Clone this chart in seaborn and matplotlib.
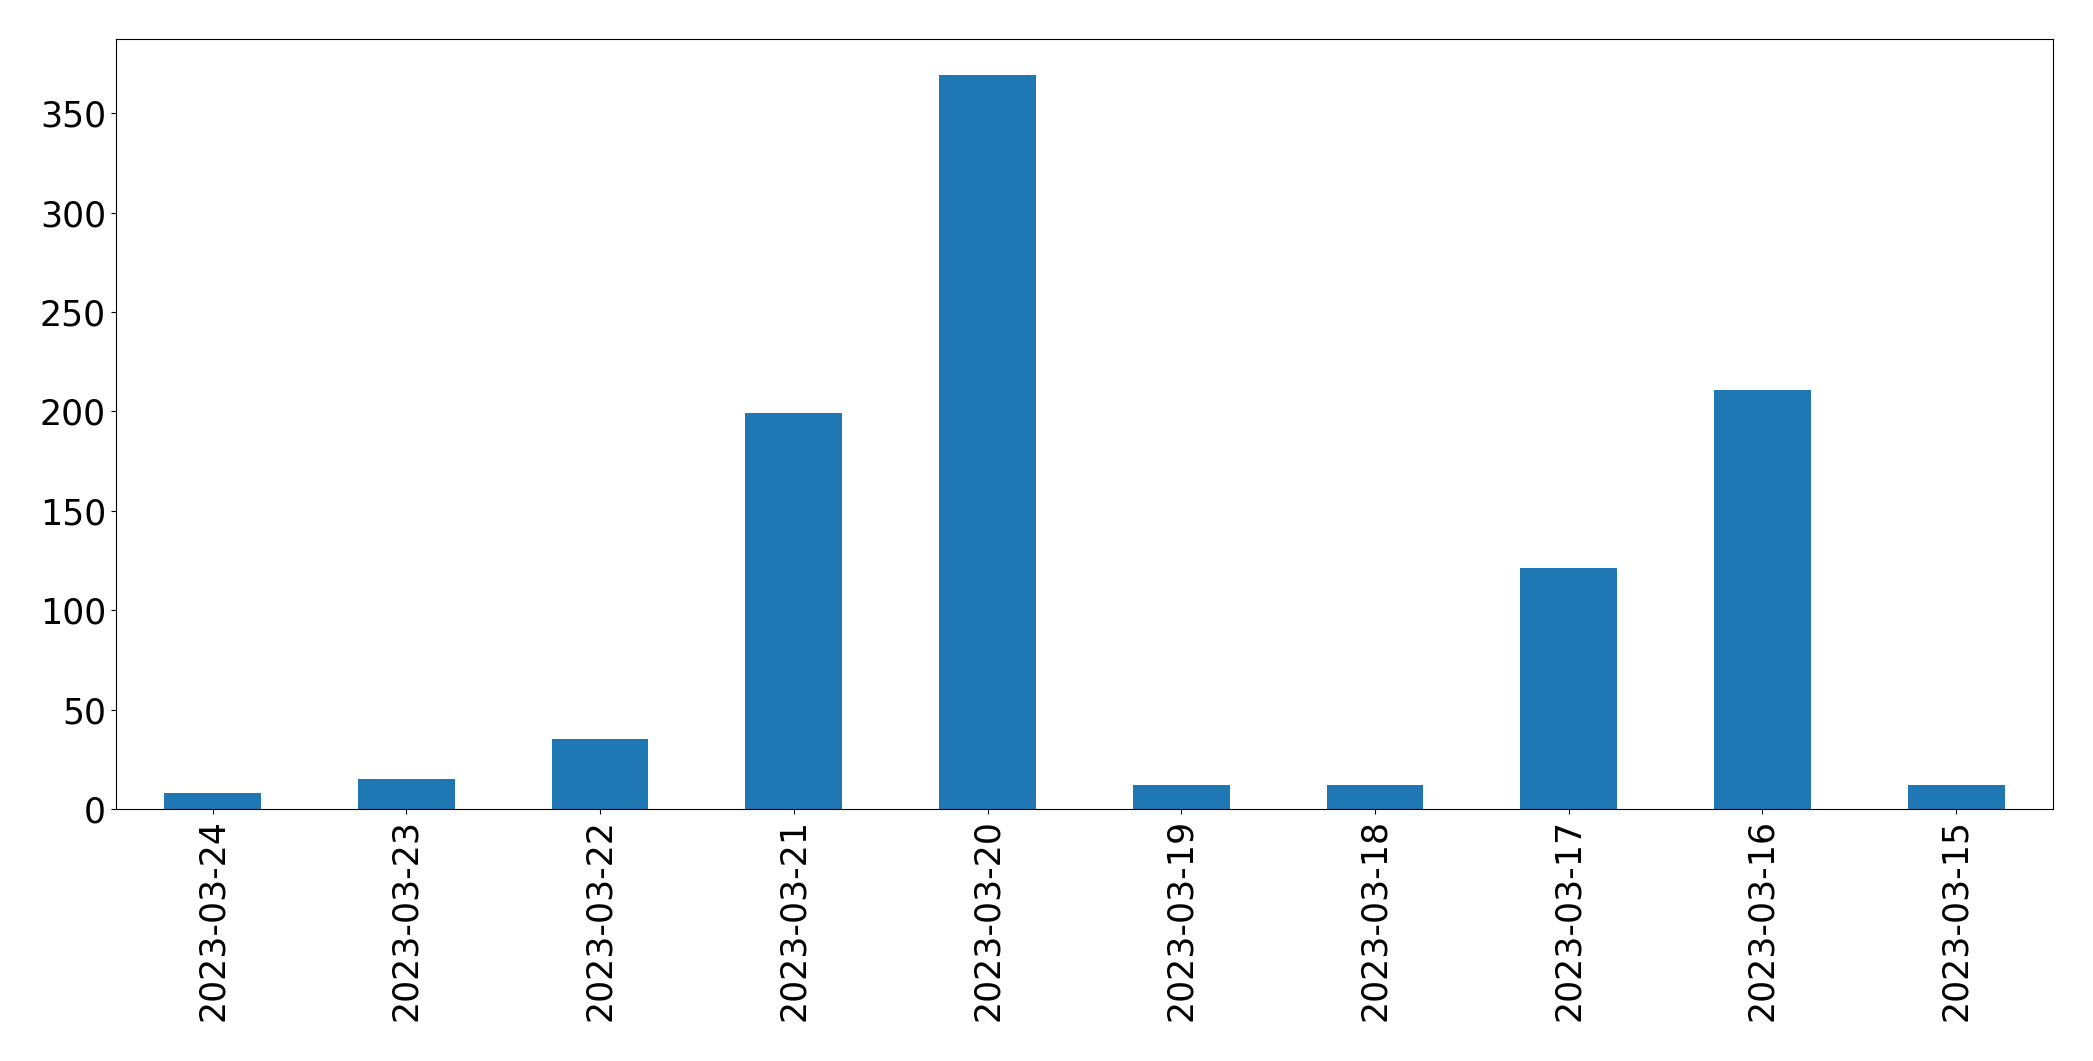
import pandas as pd
import matplotlib
matplotlib.use("Agg")
import matplotlib.pyplot as plt
import seaborn as sns

# ==========================
# Data
# ==========================

dates = [
    "2023-03-24", "2023-03-23", "2023-03-22", "2023-03-21", "2023-03-20",
    "2023-03-19", "2023-03-18", "2023-03-17", "2023-03-16", "2023-03-15",
]
counts = [8, 15, 35, 199, 369, 12, 12, 121, 211, 12]

df = pd.DataFrame({"date": dates, "count": counts})

# ==========================
# Plot
# ==========================

fig, ax = plt.subplots(figsize=(20.93, 10.61), dpi=100)

sns.barplot(
    data=df,
    x="date",
    y="count",
    order=dates,
    color="#1f77b4",
    saturation=1,
    width=0.5,
    linewidth=0,
    edgecolor="none",
    ax=ax
)

ax.set_xlim(-0.5, len(dates) - 0.5)
ax.set_ylim(0, max(counts) * 1.05)
ax.set_xlabel("")
ax.set_ylabel("")
ax.tick_params(axis="both", labelsize=25, color="black")
ax.tick_params(axis="x", labelrotation=90)
for spine in ax.spines.values():
    spine.set_color("black")

fig.subplots_adjust(left=0.0553, right=0.9809, top=0.9635, bottom=0.2375)
fig.savefig("out.png", dpi=100)
plt.close()
